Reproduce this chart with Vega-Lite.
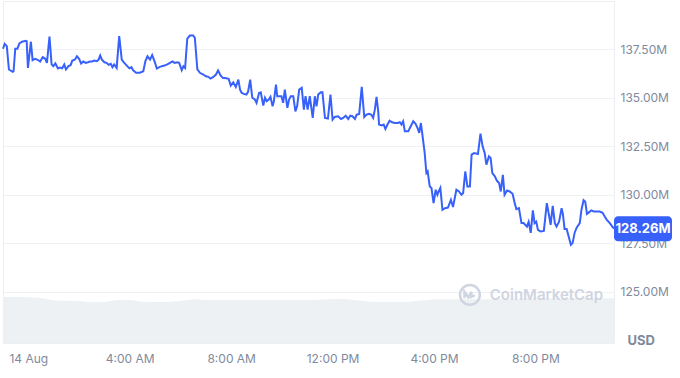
{
  "$schema": "https://vega.github.io/schema/vega-lite/v6.json",
  "width": 611,
  "height": 342,
  "padding": {"left": 3, "top": 1, "right": 66, "bottom": 35},
  "autosize": {"type": "none"},
  "background": "white",
  "config": {"view": {"stroke": "#eceef2"}, "font": "Inter"},
  "datasets": {
    "price": [
      {"t":"2023-08-13T23:00","v":137.54},{"t":"2023-08-13T23:04","v":137.79},{"t":"2023-08-13T23:09","v":137.67},{"t":"2023-08-13T23:14","v":136.47},{"t":"2023-08-13T23:23","v":136.35},{"t":"2023-08-13T23:25","v":136.38},{"t":"2023-08-13T23:29","v":137.54},{"t":"2023-08-13T23:34","v":137.54},{"t":"2023-08-13T23:39","v":137.81},{"t":"2023-08-13T23:45","v":137.90},{"t":"2023-08-13T23:54","v":137.95},{"t":"2023-08-13T23:56","v":137.93},{"t":"2023-08-13T23:59","v":136.55},
      {"t":"2023-08-14T00:06","v":137.90},{"t":"2023-08-14T00:10","v":136.95},{"t":"2023-08-14T00:16","v":137.02},{"t":"2023-08-14T00:22","v":136.97},{"t":"2023-08-14T00:28","v":136.88},{"t":"2023-08-14T00:34","v":137.10},{"t":"2023-08-14T00:40","v":137.02},{"t":"2023-08-14T00:44","v":136.81},{"t":"2023-08-14T00:50","v":138.16},{"t":"2023-08-14T00:55","v":136.73},{"t":"2023-08-14T00:59","v":136.64},
      {"t":"2023-08-14T01:04","v":136.78},{"t":"2023-08-14T01:10","v":136.52},{"t":"2023-08-14T01:15","v":136.57},{"t":"2023-08-14T01:20","v":136.53},{"t":"2023-08-14T01:25","v":136.73},{"t":"2023-08-14T01:29","v":136.47},{"t":"2023-08-14T01:35","v":136.64},{"t":"2023-08-14T01:40","v":136.69},{"t":"2023-08-14T01:44","v":136.93},{"t":"2023-08-14T01:50","v":136.97},{"t":"2023-08-14T01:55","v":137.15},
      {"t":"2023-08-14T02:00","v":137.02},{"t":"2023-08-14T02:05","v":136.78},{"t":"2023-08-14T02:10","v":136.88},{"t":"2023-08-14T02:16","v":136.81},{"t":"2023-08-14T02:21","v":136.84},{"t":"2023-08-14T02:26","v":136.88},{"t":"2023-08-14T02:31","v":136.88},{"t":"2023-08-14T02:36","v":136.93},{"t":"2023-08-14T02:42","v":136.90},{"t":"2023-08-14T02:46","v":136.97},{"t":"2023-08-14T02:50","v":137.19},{"t":"2023-08-14T02:54","v":136.98},
      {"t":"2023-08-14T03:00","v":136.84},{"t":"2023-08-14T03:05","v":136.81},{"t":"2023-08-14T03:10","v":136.71},{"t":"2023-08-14T03:15","v":136.76},{"t":"2023-08-14T03:19","v":136.59},{"t":"2023-08-14T03:23","v":136.73},{"t":"2023-08-14T03:29","v":136.55},{"t":"2023-08-14T03:35","v":138.19},{"t":"2023-08-14T03:41","v":136.98},{"t":"2023-08-14T03:46","v":136.84},{"t":"2023-08-14T03:53","v":136.67},{"t":"2023-08-14T03:59","v":136.53},
      {"t":"2023-08-14T04:04","v":136.59},{"t":"2023-08-14T04:08","v":136.43},{"t":"2023-08-14T04:15","v":136.30},{"t":"2023-08-14T04:24","v":136.30},{"t":"2023-08-14T04:32","v":136.38},{"t":"2023-08-14T04:37","v":136.90},{"t":"2023-08-14T04:42","v":137.15},{"t":"2023-08-14T04:48","v":136.98},{"t":"2023-08-14T04:53","v":137.21},
      {"t":"2023-08-14T05:00","v":136.81},{"t":"2023-08-14T05:04","v":136.52},{"t":"2023-08-14T05:10","v":136.59},{"t":"2023-08-14T05:16","v":136.64},{"t":"2023-08-14T05:22","v":136.67},{"t":"2023-08-14T05:29","v":136.73},{"t":"2023-08-14T05:35","v":136.81},{"t":"2023-08-14T05:41","v":136.88},{"t":"2023-08-14T05:46","v":136.81},{"t":"2023-08-14T05:52","v":136.84},{"t":"2023-08-14T05:57","v":136.81},
      {"t":"2023-08-14T06:03","v":136.43},{"t":"2023-08-14T06:07","v":136.64},{"t":"2023-08-14T06:11","v":136.55},{"t":"2023-08-14T06:16","v":138.05},{"t":"2023-08-14T06:22","v":138.22},{"t":"2023-08-14T06:30","v":138.22},{"t":"2023-08-14T06:34","v":138.10},{"t":"2023-08-14T06:40","v":136.47},{"t":"2023-08-14T06:46","v":136.30},{"t":"2023-08-14T06:54","v":136.21},
      {"t":"2023-08-14T07:00","v":136.12},{"t":"2023-08-14T07:06","v":136.09},{"t":"2023-08-14T07:11","v":136.00},{"t":"2023-08-14T07:17","v":136.07},{"t":"2023-08-14T07:24","v":136.21},{"t":"2023-08-14T07:29","v":136.42},{"t":"2023-08-14T07:35","v":136.16},{"t":"2023-08-14T07:40","v":136.04},{"t":"2023-08-14T07:48","v":136.02},{"t":"2023-08-14T07:54","v":135.99},{"t":"2023-08-14T07:59","v":135.64},
      {"t":"2023-08-14T08:05","v":135.81},{"t":"2023-08-14T08:11","v":135.57},{"t":"2023-08-14T08:17","v":135.95},{"t":"2023-08-14T08:21","v":135.43},{"t":"2023-08-14T08:25","v":135.26},{"t":"2023-08-14T08:30","v":135.21},{"t":"2023-08-14T08:36","v":135.18},{"t":"2023-08-14T08:40","v":135.32},{"t":"2023-08-14T08:45","v":135.95},{"t":"2023-08-14T08:50","v":135.01},{"t":"2023-08-14T08:56","v":134.92},
      {"t":"2023-08-14T09:00","v":134.75},{"t":"2023-08-14T09:06","v":135.26},{"t":"2023-08-14T09:10","v":135.29},{"t":"2023-08-14T09:16","v":134.61},{"t":"2023-08-14T09:20","v":135.01},{"t":"2023-08-14T09:24","v":134.83},{"t":"2023-08-14T09:29","v":134.92},{"t":"2023-08-14T09:33","v":135.06},{"t":"2023-08-14T09:38","v":134.57},{"t":"2023-08-14T09:41","v":134.83},{"t":"2023-08-14T09:46","v":135.69},{"t":"2023-08-14T09:49","v":135.09},{"t":"2023-08-14T09:54","v":135.09},{"t":"2023-08-14T09:59","v":135.09},
      {"t":"2023-08-14T10:03","v":134.75},{"t":"2023-08-14T10:07","v":135.43},{"t":"2023-08-14T10:13","v":134.49},{"t":"2023-08-14T10:17","v":134.92},{"t":"2023-08-14T10:21","v":135.09},{"t":"2023-08-14T10:27","v":135.09},{"t":"2023-08-14T10:32","v":134.31},{"t":"2023-08-14T10:36","v":134.57},{"t":"2023-08-14T10:41","v":135.43},{"t":"2023-08-14T10:47","v":135.52},{"t":"2023-08-14T10:52","v":134.40},{"t":"2023-08-14T10:56","v":135.09},
      {"t":"2023-08-14T11:01","v":134.40},{"t":"2023-08-14T11:06","v":135.09},{"t":"2023-08-14T11:13","v":133.97},{"t":"2023-08-14T11:18","v":135.09},{"t":"2023-08-14T11:22","v":134.57},{"t":"2023-08-14T11:26","v":135.18},{"t":"2023-08-14T11:32","v":135.29},{"t":"2023-08-14T11:36","v":135.29},{"t":"2023-08-14T11:42","v":133.97},{"t":"2023-08-14T11:49","v":133.94},{"t":"2023-08-14T11:55","v":135.18},
      {"t":"2023-08-14T12:00","v":133.88},{"t":"2023-08-14T12:05","v":134.02},{"t":"2023-08-14T12:13","v":134.06},{"t":"2023-08-14T12:20","v":133.92},{"t":"2023-08-14T12:25","v":133.97},{"t":"2023-08-14T12:31","v":134.09},{"t":"2023-08-14T12:37","v":133.92},{"t":"2023-08-14T12:42","v":134.09},{"t":"2023-08-14T12:47","v":134.06},{"t":"2023-08-14T12:53","v":133.92},{"t":"2023-08-14T12:57","v":134.14},
      {"t":"2023-08-14T13:03","v":134.18},{"t":"2023-08-14T13:09","v":135.57},{"t":"2023-08-14T13:15","v":134.02},{"t":"2023-08-14T13:20","v":134.14},{"t":"2023-08-14T13:26","v":134.18},{"t":"2023-08-14T13:32","v":134.13},{"t":"2023-08-14T13:36","v":133.97},{"t":"2023-08-14T13:40","v":134.40},{"t":"2023-08-14T13:44","v":135.06},{"t":"2023-08-14T13:48","v":134.31},{"t":"2023-08-14T13:50","v":133.63},{"t":"2023-08-14T13:56","v":133.59},
      {"t":"2023-08-14T14:01","v":133.63},{"t":"2023-08-14T14:05","v":133.40},{"t":"2023-08-14T14:10","v":133.63},{"t":"2023-08-14T14:15","v":133.83},{"t":"2023-08-14T14:21","v":133.75},{"t":"2023-08-14T14:27","v":133.71},{"t":"2023-08-14T14:34","v":133.71},{"t":"2023-08-14T14:39","v":133.75},{"t":"2023-08-14T14:43","v":133.63},{"t":"2023-08-14T14:47","v":133.80},{"t":"2023-08-14T14:51","v":133.28},{"t":"2023-08-14T14:59","v":133.28},
      {"t":"2023-08-14T15:05","v":133.54},{"t":"2023-08-14T15:11","v":133.80},{"t":"2023-08-14T15:16","v":133.68},{"t":"2023-08-14T15:21","v":133.46},{"t":"2023-08-14T15:25","v":133.20},{"t":"2023-08-14T15:29","v":133.71},{"t":"2023-08-14T15:32","v":133.20},{"t":"2023-08-14T15:38","v":132.16},{"t":"2023-08-14T15:42","v":131.13},{"t":"2023-08-14T15:45","v":131.21},{"t":"2023-08-14T15:50","v":130.44},{"t":"2023-08-14T15:54","v":130.36},{"t":"2023-08-14T15:59","v":129.58},
      {"t":"2023-08-14T16:04","v":130.27},{"t":"2023-08-14T16:08","v":130.01},{"t":"2023-08-14T16:11","v":130.18},{"t":"2023-08-14T16:15","v":130.36},{"t":"2023-08-14T16:20","v":129.24},{"t":"2023-08-14T16:26","v":129.32},{"t":"2023-08-14T16:33","v":129.35},{"t":"2023-08-14T16:40","v":129.75},{"t":"2023-08-14T16:45","v":129.38},{"t":"2023-08-14T16:53","v":130.27},{"t":"2023-08-14T16:59","v":130.18},
      {"t":"2023-08-14T17:05","v":130.01},{"t":"2023-08-14T17:09","v":130.10},{"t":"2023-08-14T17:14","v":131.21},{"t":"2023-08-14T17:19","v":130.44},{"t":"2023-08-14T17:25","v":130.44},{"t":"2023-08-14T17:29","v":132.08},{"t":"2023-08-14T17:35","v":132.16},{"t":"2023-08-14T17:44","v":132.11},{"t":"2023-08-14T17:50","v":133.16},{"t":"2023-08-14T17:55","v":132.51},
      {"t":"2023-08-14T18:00","v":132.16},{"t":"2023-08-14T18:04","v":131.56},{"t":"2023-08-14T18:10","v":131.99},{"t":"2023-08-14T18:14","v":131.91},{"t":"2023-08-14T18:18","v":131.13},{"t":"2023-08-14T18:24","v":130.96},{"t":"2023-08-14T18:29","v":130.73},{"t":"2023-08-14T18:34","v":130.62},{"t":"2023-08-14T18:38","v":130.18},{"t":"2023-08-14T18:43","v":131.04},{"t":"2023-08-14T18:47","v":130.01},{"t":"2023-08-14T18:53","v":130.23},{"t":"2023-08-14T18:59","v":130.18},
      {"t":"2023-08-14T19:06","v":130.06},{"t":"2023-08-14T19:11","v":129.58},{"t":"2023-08-14T19:15","v":129.27},{"t":"2023-08-14T19:21","v":129.32},{"t":"2023-08-14T19:27","v":128.55},{"t":"2023-08-14T19:32","v":128.55},{"t":"2023-08-14T19:40","v":128.37},{"t":"2023-08-14T19:44","v":128.62},{"t":"2023-08-14T19:49","v":128.05},{"t":"2023-08-14T19:54","v":129.21},{"t":"2023-08-14T19:58","v":128.55},
      {"t":"2023-08-14T20:02","v":128.63},{"t":"2023-08-14T20:06","v":128.20},{"t":"2023-08-14T20:12","v":128.12},{"t":"2023-08-14T20:20","v":128.15},{"t":"2023-08-14T20:27","v":129.58},{"t":"2023-08-14T20:32","v":128.98},{"t":"2023-08-14T20:36","v":128.46},{"t":"2023-08-14T20:41","v":129.44},{"t":"2023-08-14T20:46","v":128.55},{"t":"2023-08-14T20:50","v":128.37},{"t":"2023-08-14T20:56","v":128.62},
      {"t":"2023-08-14T21:02","v":129.32},{"t":"2023-08-14T21:05","v":129.03},{"t":"2023-08-14T21:09","v":128.25},{"t":"2023-08-14T21:14","v":128.25},{"t":"2023-08-14T21:19","v":127.84},{"t":"2023-08-14T21:24","v":127.43},{"t":"2023-08-14T21:28","v":127.52},{"t":"2023-08-14T21:33","v":128.07},{"t":"2023-08-14T21:38","v":128.33},{"t":"2023-08-14T21:45","v":128.55},{"t":"2023-08-14T21:49","v":129.24},{"t":"2023-08-14T21:54","v":129.73},{"t":"2023-08-14T21:58","v":129.65},
      {"t":"2023-08-14T22:02","v":129.03},{"t":"2023-08-14T22:08","v":129.13},{"t":"2023-08-14T22:12","v":129.21},{"t":"2023-08-14T22:18","v":129.15},{"t":"2023-08-14T22:24","v":129.15},{"t":"2023-08-14T22:32","v":129.15},{"t":"2023-08-14T22:39","v":129.08},{"t":"2023-08-14T22:44","v":128.89},{"t":"2023-08-14T22:49","v":128.72},{"t":"2023-08-14T22:56","v":128.55},
      {"t":"2023-08-14T23:02","v":128.37},{"t":"2023-08-14T23:06","v":128.26}
    ],
    "volume": [
      {"t":"2023-08-13T23:00","vol":13.45},{"t":"2023-08-13T23:30","vol":13.45},{"t":"2023-08-14T00:00","vol":13.36},{"t":"2023-08-14T00:30","vol":13.16},{"t":"2023-08-14T01:00","vol":12.43},{"t":"2023-08-14T01:30","vol":12.37},{"t":"2023-08-14T02:00","vol":12.28},{"t":"2023-08-14T02:30","vol":11.90},{"t":"2023-08-14T03:00","vol":11.99},{"t":"2023-08-14T03:30","vol":12.57},{"t":"2023-08-14T04:00","vol":12.57},{"t":"2023-08-14T04:30","vol":12.08},{"t":"2023-08-14T05:00","vol":11.99},{"t":"2023-08-14T05:30","vol":11.99},{"t":"2023-08-14T06:00","vol":12.28},{"t":"2023-08-14T06:30","vol":12.78},{"t":"2023-08-14T07:00","vol":12.57},{"t":"2023-08-14T07:30","vol":12.57},{"t":"2023-08-14T08:00","vol":12.57},{"t":"2023-08-14T08:30","vol":12.57},{"t":"2023-08-14T09:00","vol":12.57},{"t":"2023-08-14T09:30","vol":12.57},{"t":"2023-08-14T10:00","vol":12.57},{"t":"2023-08-14T10:30","vol":12.57},{"t":"2023-08-14T11:00","vol":12.57},{"t":"2023-08-14T11:30","vol":12.66},{"t":"2023-08-14T12:00","vol":12.87},{"t":"2023-08-14T12:30","vol":12.87},{"t":"2023-08-14T13:00","vol":12.43},{"t":"2023-08-14T13:30","vol":12.08},{"t":"2023-08-14T14:00","vol":12.08},{"t":"2023-08-14T14:30","vol":12.08},{"t":"2023-08-14T15:00","vol":12.08},{"t":"2023-08-14T15:30","vol":12.43},{"t":"2023-08-14T16:00","vol":12.72},{"t":"2023-08-14T16:30","vol":12.78},{"t":"2023-08-14T17:00","vol":12.78},{"t":"2023-08-14T17:30","vol":12.78},{"t":"2023-08-14T18:00","vol":12.78},{"t":"2023-08-14T18:30","vol":12.78},{"t":"2023-08-14T19:00","vol":12.87},{"t":"2023-08-14T19:30","vol":13.07},{"t":"2023-08-14T20:00","vol":13.07},{"t":"2023-08-14T20:30","vol":13.07},{"t":"2023-08-14T21:00","vol":13.07},{"t":"2023-08-14T21:30","vol":13.07},{"t":"2023-08-14T22:00","vol":13.07},{"t":"2023-08-14T22:30","vol":13.07},{"t":"2023-08-14T23:00","vol":13.07},{"t":"2023-08-14T23:06","vol":13.07}
    ],
    "watermark": [{"name": "CoinMarketCap"}]
  },
  "layer": [
    {
      "data": {"name": "volume"},
      "mark": {"type": "area", "color": "#eef1f4", "opacity": 1},
      "encoding": {
        "x": {
          "field": "t",
          "type": "temporal",
          "scale": {"domain": [{"year":2023,"month":8,"date":13,"hours":23,"minutes":0},{"year":2023,"month":8,"date":14,"hours":23,"minutes":6}]},
          "axis": {
            "values": [
              {"year":2023,"month":8,"date":14,"hours":0},
              {"year":2023,"month":8,"date":14,"hours":4},
              {"year":2023,"month":8,"date":14,"hours":8},
              {"year":2023,"month":8,"date":14,"hours":12},
              {"year":2023,"month":8,"date":14,"hours":16},
              {"year":2023,"month":8,"date":14,"hours":20}
            ],
            "labelExpr": "hours(datum.value) == 0 ? timeFormat(datum.value, '%-d %b') : timeFormat(datum.value, '%-I:%M %p')",
            "grid": false,
            "ticks": false,
            "domain": false,
            "labelPadding": 10,
            "labelFontSize": 12,
            "labelColor": "#808a9d",
            "labelFont": "Inter",
            "title": null
          }
        },
        "y": {"field": "vol", "type": "quantitative", "scale": {"domain": [0, 100], "nice": false}, "axis": null}
      }
    },
    {
      "layer": [
        {
          "data": {"name": "watermark"},
          "mark": {"type": "text", "align": "left", "baseline": "middle", "fontSize": 15, "fontWeight": 600, "color": "#cfd5e1", "font": "Inter"},
          "encoding": {
            "x": {"datum": {"year":2023,"month":8,"date":14,"hours":18,"minutes":12}, "type": "temporal"},
            "y": {"datum": 124.85, "type": "quantitative"},
            "text": {"field": "name"}
          }
        },
        {
          "data": {"name": "watermark"},
          "mark": {"type": "point", "shape": "M0,-1 A1,1 0 1,1 0,1 A1,1 0 1,1 0,-1 Z M-0.55,0.35 L-0.55,-0.3 L-0.15,0.25 L0.15,-0.3 L0.15,0.2 L0.5,0.05", "filled": false, "size": 390, "strokeWidth": 2.5, "color": "#cfd5e1", "opacity": 1},
          "encoding": {
            "x": {"datum": {"year":2023,"month":8,"date":14,"hours":17,"minutes":25}, "type": "temporal"},
            "y": {"datum": 124.85, "type": "quantitative"}
          }
        },
        {
          "data": {"name": "price"},
          "mark": {"type": "line", "color": "#3861fb", "strokeWidth": 2, "interpolate": "linear"},
          "encoding": {
            "x": {"field": "t", "type": "temporal"},
            "y": {
              "field": "v",
              "type": "quantitative",
              "scale": {"domain": [122.37, 140], "nice": false, "zero": false},
              "axis": {
                "orient": "right",
                "values": [125, 127.5, 130, 132.5, 135, 137.5],
                "format": ".2f",
                "labelExpr": "datum.label + 'M'",
                "grid": true,
                "gridColor": "#eff1f4",
                "ticks": false,
                "domain": false,
                "labelPadding": 6,
                "labelFontSize": 12,
                "labelColor": "#808a9d",
                "labelFont": "Inter",
                "title": "USD",
                "titleAngle": 0,
                "titleX": 13,
                "titleY": 339,
                "titleAlign": "left",
                "titleBaseline": "middle",
                "titleFontSize": 13,
                "titleFontWeight": "bold",
                "titleColor": "#808a9d",
                "titleFont": "Inter"
              }
            }
          }
        },
        {
          "data": {"name": "price"},
          "transform": [
            {"window": [{"op": "row_number", "as": "rn"}], "sort": [{"field": "t", "order": "descending"}]},
            {"filter": "datum.rn == 1"}
          ],
          "mark": {"type": "point", "shape": "M-0.862,-0.431 H0.862 A0.138,0.138 0 0 1 1,-0.293 V0.293 A0.138,0.138 0 0 1 0.862,0.431 H-0.862 A0.138,0.138 0 0 1 -1,0.293 V-0.293 A0.138,0.138 0 0 1 -0.862,-0.431 Z", "size": 3364, "filled": true, "color": "#3861fb", "opacity": 1, "strokeWidth": 0, "xOffset": 29},
          "encoding": {
            "x": {"field": "t", "type": "temporal"},
            "y": {"field": "v", "type": "quantitative"}
          }
        },
        {
          "data": {"name": "price"},
          "transform": [
            {"window": [{"op": "row_number", "as": "rn"}], "sort": [{"field": "t", "order": "descending"}]},
            {"filter": "datum.rn == 1"},
            {"calculate": "format(datum.v, '.2f') + 'M'", "as": "label"}
          ],
          "mark": {"type": "text", "dx": 29, "align": "center", "baseline": "middle", "color": "white", "fontSize": 13, "fontWeight": "bold", "font": "Inter"},
          "encoding": {
            "x": {"field": "t", "type": "temporal"},
            "y": {"field": "v", "type": "quantitative"},
            "text": {"field": "label"}
          }
        }
      ]
    }
  ],
  "resolve": {"scale": {"y": "independent"}}
}
